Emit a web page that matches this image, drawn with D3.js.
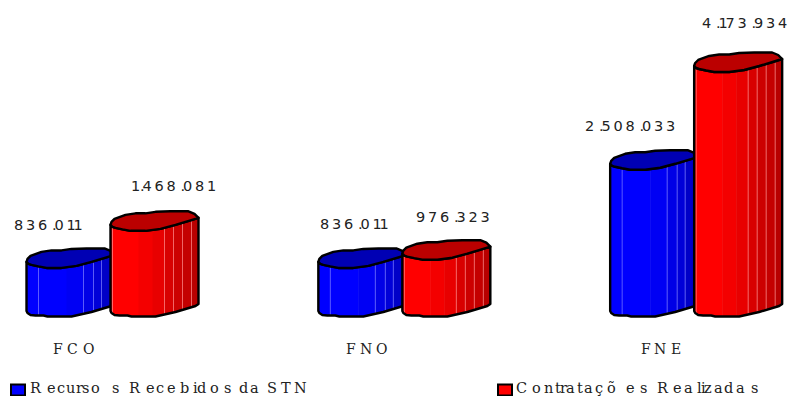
<!DOCTYPE html>
<html><head><meta charset="utf-8">
<script src="https://cdn.jsdelivr.net/npm/d3@7"></script>
<style>html,body{margin:0;padding:0;background:#fff}svg{display:block}
text{fill:#222}</style></head><body>
<svg id="c" width="789" height="396"></svg>
<script>
const categories = ["FCO","FNO","FNE"];
const seriesNames = ["Recursos Recebidos da STN","Contratações Realizadas"];
const recursos = [836011, 836011, 2508033];
const contratacoes = [1468081, 976323, 4173934];
const seriesList = [recursos, contratacoes];
const numberFmt = d3.formatLocale({decimal:",",thousands:".",grouping:[3],currency:["",""]}).format(",d");

const svg=d3.select("#c");
const x=d3.scaleBand().domain(categories).range([26.5,902]);
const sub=d3.scaleLinear().domain([0,1]).range([0,84]);
const y=d3.scaleLinear().domain([0,1000000]).range([311,252.3]);

// Irregular cylinder silhouette, relative to the bar's left edge
const topRim=[[0,0],[1,-3],[4,-6],[15,-10],[25,-11.5],[35,-11.5],[45,-13],[60,-13.5],[78,-13.5],[84,-11],[88,-7]];
const frontRim=[[88,-7],[80,-4.5],[65,0],[50,4],[35,6],[20,6],[12,4.5],[5,3],[2,2],[0,0]];
const bottomRim=[[0,0],[1,2],[4,4],[9,4.5],[17,4.5],[21,5.5],[45,5.5],[65,1],[85,-5],[88,-7]];
const line=d3.line().curve(d3.curveLinear);
const tail=s=>s.replace(/^M[^L]*/,"");

const palettes=[
 {main:"#0000ff",stops:["#0000ff","#0000f4","#0000e6","#0000d8","#0000c8"],top:"#0000b4",seam:"#8080ff"},
 {main:"#ff0000",stops:["#ff0000","#f40000","#e80000","#d80000","#cc0000","#c40000","#b80000"],top:"#bb0000",seam:"#ff9090"}
];
const bandEdges=[[0,40,57,67,75,88],[0,28,42,54,63,72,81,88]];
const seams=[[12,57,67,75],[2,54,63,72,81]];

const defs=svg.append("defs");
categories.forEach((cat,ci)=>{
 seriesList.forEach((vals,si)=>{
  const x0=x(cat)+sub(si), y0=y(vals[ci]), yb=y(0), pal=palettes[si];
  const tr=topRim.map(p=>[x0+p[0],y0+p[1]]);
  const fr=frontRim.map(p=>[x0+p[0],y0+p[1]]);
  const br=bottomRim.map(p=>[x0+p[0],yb+p[1]]);
  const body="M"+x0+","+y0+"L"+x0+","+yb+tail(line(br))+"L"+(x0+88)+","+(y0-7)+tail(line(fr))+"Z";
  const id="clip"+ci+si;
  defs.append("clipPath").attr("id",id).append("path").attr("d",body);
  const g=svg.append("g");
  const cg=g.append("g").attr("clip-path",`url(#${id})`);
  d3.pairs(bandEdges[si]).forEach(([a,b],i)=>{
    cg.append("rect").attr("x",x0+a).attr("width",b-a+.5).attr("y",y0-15).attr("height",yb-y0+25).attr("fill",pal.stops[i]);
  });
  seams[si].forEach(s=>cg.append("line").attr("x1",x0+s).attr("x2",x0+s).attr("y1",y0-15).attr("y2",yb+10)
    .attr("stroke",pal.seam).attr("stroke-width",1).attr("opacity",.7));
  g.append("path").attr("d",body).attr("fill","none").attr("stroke","#000").attr("stroke-width",2.4).attr("stroke-linejoin","round");
  const topPath=line(tr)+tail(line(fr))+"Z";
  g.append("path").attr("d",topPath).attr("fill",pal.top).attr("stroke","#000").attr("stroke-width",2.4).attr("stroke-linejoin","round");
 });
});

// value labels: tracking rule that mimics the uneven glyph spacing of the reference
function numberXs(str,start){
  const xs=[]; let p=start;
  [...str].forEach((c,i)=>{
    xs.push(p);
    const n=str[i+1];
    p+= c==="." ? 2.5 : n==="." ? (c==="1"?9:14) : c==="1" ? 7 : 12;
  });
  return xs.join(" ");
}
const labelPos=[[[14,230],[131,191]],[[320,229],[416,222]],[[585,131],[702,28]]];
categories.forEach((c,ci)=>seriesList.forEach((v,si)=>{
  const s=numberFmt(v[ci]);
  svg.append("text").attr("x",numberXs(s,labelPos[ci][si][0])).attr("y",labelPos[ci][si][1])
   .attr("font-family","'DejaVu Sans',sans-serif").attr("font-size",14.5).attr("fill","#333").text(s);
}));

// category labels
const catGlyphX=[[53,67,83],[346,360,376],[641,654,671]];
categories.forEach((c,i)=>svg.append("text").attr("x",catGlyphX[i].join(" ")).attr("y",354)
  .attr("font-family","'DejaVu Serif',serif").attr("font-size",14).text(c));

// legend
const legendGlyphX=[
 [30,47,57,66,76,82,91,112,123,129,146,156,167,180,193,197,210,224,234,239,250,260,267,281,294],
 [516,532,544,555,560,566,577,584,595,607,626,640,652,657,673,684,697,701,704,714,724,736,751]
];
const legX=[11,498];
seriesNames.forEach((n,i)=>{
  svg.append("rect").attr("x",legX[i]).attr("y",384.5).attr("width",14).attr("height",11).attr("fill",palettes[i].main).attr("stroke","#000").attr("stroke-width",2);
  svg.append("text").attr("x",legendGlyphX[i].join(" ")).attr("y",392.5)
   .attr("font-family","'DejaVu Serif',serif").attr("font-size",14.5).text(n);
});
</script></body></html>
